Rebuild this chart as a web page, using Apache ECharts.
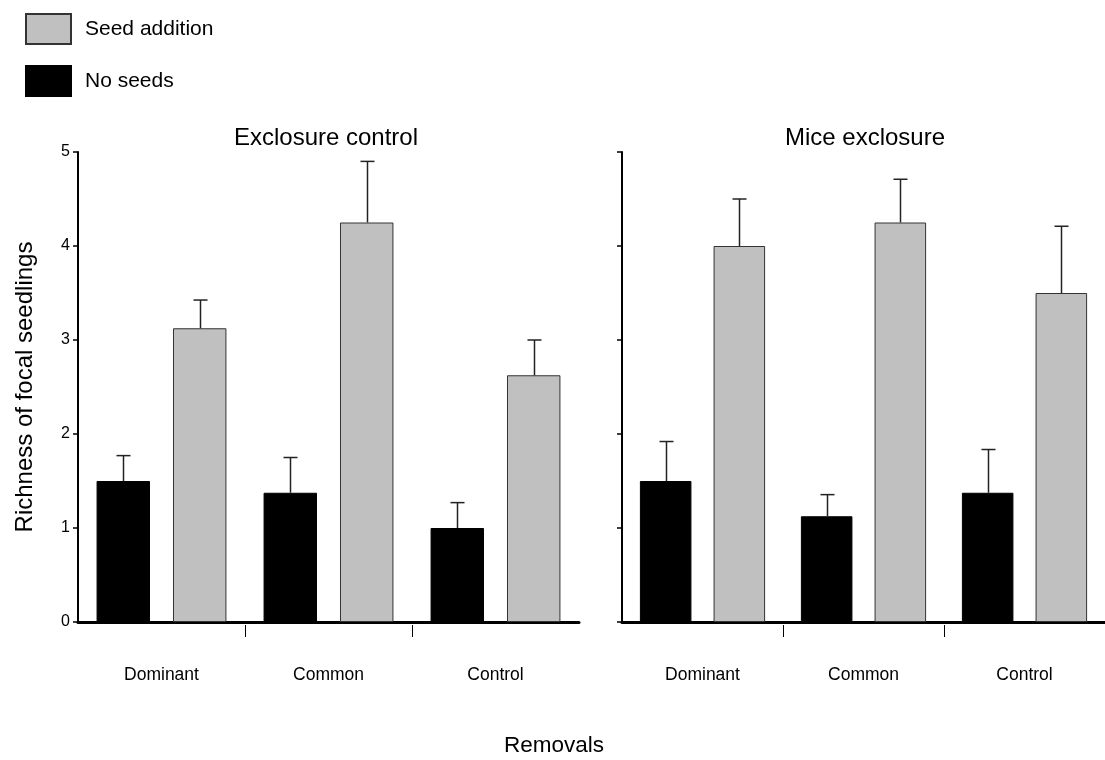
<!DOCTYPE html>
<html>
<head>
<meta charset="utf-8">
<script src="https://cdn.jsdelivr.net/npm/echarts@6/dist/echarts.min.js"></script>
<style>
html,body{margin:0;padding:0;background:#fff;}
#chart{width:1105px;height:760px;}
</style>
</head>
<body>
<div id="chart"></div>
<script>
const categories = ['Dominant', 'Common', 'Control'];
const panelTitles = ['Exclosure control', 'Mice exclosure'];
const seriesNames = ['No seeds', 'Seed addition'];
const yTicks = [0, 1, 2, 3, 4, 5];
const groupBoundaryTicks = [1, 2];

// Exclosure control
const ctrlNoSeeds = [1.5, 1.375, 1.0];
const ctrlNoSeedsErr = [0.27, 0.375, 0.27];
const ctrlSeedAdd = [3.125, 4.25, 2.625];
const ctrlSeedAddErr = [0.30, 0.65, 0.375];

// Mice exclosure
const miceNoSeeds = [1.5, 1.125, 1.375];
const miceNoSeedsErr = [0.42, 0.23, 0.46];
const miceSeedAdd = [4.0, 4.25, 3.5];
const miceSeedAddErr = [0.5, 0.46, 0.71];

const BAR_W = 0.32, BAR_GAP = 0.43;
const FONT = 'Liberation Sans, Arial, sans-serif';

function errData(vals, errs) {
  return vals.map((v, i) => [i, v, errs[i]]);
}
function errRenderer(sign) {
  return function (params, api) {
    const c = api.value(0), v = api.value(1), e = api.value(2);
    const band = api.size([1, 0])[0];
    const dx = sign * band * BAR_W * (1 + BAR_GAP) / 2;
    const p0 = api.coord([c, v]);
    const p1 = api.coord([c, v + e]);
    const x = Math.round(p0[0] + dx) + 0.5;
    const cap = 7;
    return {
      type: 'group',
      children: [
        { type: 'line', shape: { x1: x, y1: p0[1], x2: x, y2: p1[1] }, style: { stroke: '#222', lineWidth: 1.5 } },
        { type: 'line', shape: { x1: x - cap, y1: p1[1], x2: x + cap, y2: p1[1] }, style: { stroke: '#222', lineWidth: 1.5 } }
      ]
    };
  };
}

const grids = [
  { left: 78, top: 152, width: 501, height: 470 },
  { left: 622, top: 152, width: 487, height: 470 }
];

const xAxes = [];
const yAxes = [];
[0, 1].forEach(g => {
  xAxes.push({
    type: 'category', gridIndex: g, data: categories,
    axisLine: { lineStyle: { color: '#000', width: 3 } },
    axisTick: { show: false },
    axisLabel: { margin: 44, fontSize: 17.5, color: '#000', fontFamily: FONT },
    splitLine: { show: false }
  });
  xAxes.push({
    type: 'value', gridIndex: g, min: 0, max: 3, interval: 1, position: 'bottom', offset: 3,
    axisLine: { show: false },
    axisLabel: { show: false },
    splitLine: { show: false },
    axisTick: { show: true, length: 12, customValues: groupBoundaryTicks, lineStyle: { color: '#000', width: 1 } }
  });
  yAxes.push({
    type: 'value', gridIndex: g, min: yTicks[0], max: yTicks[yTicks.length - 1], interval: 1,
    axisLine: { show: true, lineStyle: { color: '#000', width: 2 } },
    axisTick: { show: true, length: 5, lineStyle: { color: '#000', width: 1.5 } },
    axisLabel: { show: g === 0, fontSize: 16, color: '#000', margin: 8, fontFamily: FONT },
    splitLine: { show: false },
    name: g === 0 ? 'Richness of focal seedlings' : '',
    nameLocation: 'middle', nameGap: 41, nameRotate: 90,
    nameTextStyle: { fontSize: 24, color: '#000', fontFamily: FONT }
  });
});

const panels = [
  { no: ctrlNoSeeds, noErr: ctrlNoSeedsErr, seed: ctrlSeedAdd, seedErr: ctrlSeedAddErr },
  { no: miceNoSeeds, noErr: miceNoSeedsErr, seed: miceSeedAdd, seedErr: miceSeedAddErr }
];

const series = [];
panels.forEach((p, g) => {
  series.push({
    type: 'bar', name: seriesNames[0], xAxisIndex: g * 2, yAxisIndex: g, data: p.no,
    barWidth: (BAR_W * 100) + '%', barGap: (BAR_GAP * 100) + '%',
    itemStyle: { color: '#000', borderColor: '#000', borderWidth: 1 },
    emphasis: { disabled: true }
  });
  series.push({
    type: 'bar', name: seriesNames[1], xAxisIndex: g * 2, yAxisIndex: g, data: p.seed,
    barWidth: (BAR_W * 100) + '%', barGap: (BAR_GAP * 100) + '%',
    itemStyle: { color: '#c0c0c0', borderColor: '#333', borderWidth: 1 },
    emphasis: { disabled: true }
  });
  series.push({
    type: 'custom', name: 'err-no-' + g, xAxisIndex: g * 2, yAxisIndex: g,
    data: errData(p.no, p.noErr), renderItem: errRenderer(-1), z: 5,
    encode: { x: 0, y: 1 }, silent: true
  });
  series.push({
    type: 'custom', name: 'err-seed-' + g, xAxisIndex: g * 2, yAxisIndex: g,
    data: errData(p.seed, p.seedErr), renderItem: errRenderer(1), z: 5,
    encode: { x: 0, y: 1 }, silent: true
  });
});

const chart = echarts.init(document.getElementById('chart'), null, { renderer: 'canvas' });
chart.setOption({
  animation: false,
  backgroundColor: '#fff',
  textStyle: { fontFamily: FONT },
  title: [
    { text: panelTitles[0], left: 326, top: 126, textAlign: 'center', padding: 0,
      textStyle: { fontSize: 24, fontWeight: 'normal', color: '#000', fontFamily: FONT } },
    { text: panelTitles[1], left: 865, top: 126, textAlign: 'center', padding: 0,
      textStyle: { fontSize: 24, fontWeight: 'normal', color: '#000', fontFamily: FONT } },
    { text: 'Removals', left: 554, top: 734, textAlign: 'center', padding: 0,
      textStyle: { fontSize: 22.5, fontWeight: 'normal', color: '#000', fontFamily: FONT } }
  ],
  legend: {
    data: [seriesNames[1], seriesNames[0]],
    orient: 'vertical', left: 25, top: 13, padding: 0,
    itemWidth: 45, itemHeight: 30, itemGap: 20, icon: 'rect',
    textStyle: { fontSize: 21, color: '#000', fontFamily: FONT, padding: [0, 0, 0, 9] },
    selectedMode: false
  },
  grid: grids,
  xAxis: xAxes,
  yAxis: yAxes,
  series: series
});
</script>
</body>
</html>
